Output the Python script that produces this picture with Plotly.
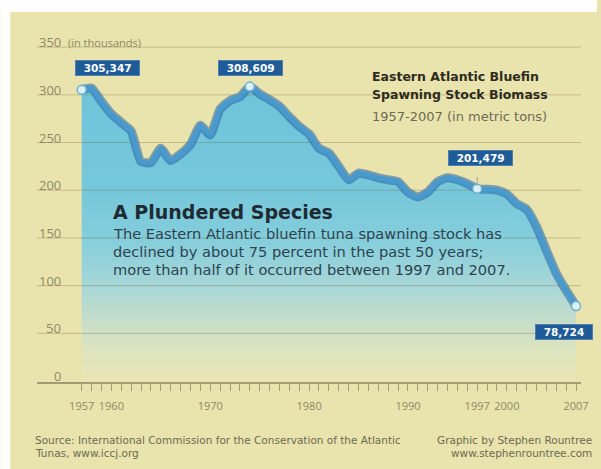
import plotly.graph_objects as go

# ---------------- data ----------------
years = list(range(1957, 2008))
biomass = [305.347, 307, 293, 280, 271, 262, 230, 229, 244, 231, 238, 248, 268, 258,
           285, 294, 298, 308.609, 301, 295, 288, 277, 267, 259, 244, 239, 225, 211,
           218, 216, 213, 211, 209, 198, 193, 198, 209, 213, 211, 207, 201.479, 201,
           200, 196, 186, 180, 162, 137, 113, 95, 78.724]

highlight_years = [1957, 1974, 1997, 2007]
highlight_labels = ["305,347", "308,609", "201,479", "78,724"]

ytick_vals = [0, 50, 100, 150, 200, 250, 300, 350]
ytick_text = ["0", "50", "100", "150", "200", "250", "300", "350"]
xtick_vals = [1957, 1960, 1970, 1980, 1990, 1997, 2000, 2007]
xtick_text = ["1957", "1960", "1970", "1980", "1990", "1997", "2000", "2007"]

body_lines = ["The Eastern Atlantic bluefin tuna spawning stock has",
              "declined by about 75 percent in the past 50 years;",
              "more than half of it occurred between 1997 and 2007."]

# ---------------- layout geometry ----------------
W, H = 601, 469
ML, MR, MT, MB = 37, 16, 29, 87
PW = W - ML - MR
PH = H - MT - MB
x_range = [1952.48, 2007.5]
y_range = [-1, 369]


def xp(px):
    return (px - ML) / PW


def yp(py):
    return (H - MB - py) / PH


BG = "#E9E3AD"
FONT = "DejaVu Sans"
TICKFONT = "Open Sans"

fig = go.Figure()

# area fill with vertical gradient
fig.add_trace(go.Scatter(
    x=years, y=biomass, mode="lines", line=dict(width=0, shape="spline", smoothing=0.5),
    fill="tozeroy",
    fillgradient=dict(
        type="vertical", start=0, stop=310,
        colorscale=[[0.0, "rgba(234,230,182,0.95)"],
                    [0.10, "rgba(221,228,191,0.95)"],
                    [0.20, "rgba(198,222,203,0.95)"],
                    [0.33, "rgba(160,213,219,0.93)"],
                    [0.48, "rgba(124,204,224,0.92)"],
                    [0.65, "rgba(108,197,223,0.92)"],
                    [1.0, "rgba(100,194,222,0.92)"]]),
    hoverinfo="skip", showlegend=False))

# gridlines (drawn over the fill, under the line)
gx, gy = [], []
for v in ytick_vals[1:]:
    gx += [x_range[0], x_range[1], None]
    gy += [v, v, None]
fig.add_trace(go.Scatter(x=gx, y=gy, mode="lines",
                         line=dict(color="rgba(95,85,40,0.28)", width=1),
                         hoverinfo="skip", showlegend=False))

# line glow + line
fig.add_trace(go.Scatter(x=years, y=biomass, mode="lines",
                         line=dict(color="rgba(36,98,160,0.55)", width=9, shape="spline", smoothing=0.5),
                         hoverinfo="skip", showlegend=False))
fig.add_trace(go.Scatter(x=years, y=biomass, mode="lines",
                         line=dict(color="#4899CD", width=5, shape="spline", smoothing=0.5),
                         hoverinfo="skip", showlegend=False))

hv = [biomass[years.index(y)] for y in highlight_years]
fig.add_trace(go.Scatter(x=highlight_years, y=hv, mode="markers",
                         marker=dict(size=9, color="#DCF2F2", line=dict(color="#6AAFD6", width=1.5)),
                         hoverinfo="skip", showlegend=False))

annotations = []

# y tick labels (right aligned, sitting on the gridlines)
for v, t in zip(ytick_vals, ytick_text):
    annotations.append(dict(xref="paper", yref="y", x=xp(63), y=v, text=t, showarrow=False,
                            xanchor="right", yanchor="middle", yshift=5,
                            font=dict(family=TICKFONT, size=13, color="#8E8A66")))
annotations.append(dict(xref="paper", yref="y", x=xp(66), y=ytick_vals[-1], text="(in thousands)",
                        showarrow=False, xanchor="left", yanchor="middle", yshift=5,
                        font=dict(family=TICKFONT, size=11, color="#8E8A66")))

# value callouts
label_shift = [(26, 22), (1, 19), (3, 31), (-12, -26)]
conn_len = [-15, -12, -22, 0]
for yr, v, lab, (dx, dy), cl in zip(highlight_years, hv, highlight_labels, label_shift, conn_len):
    if cl:
        annotations.append(dict(x=yr, y=v, xref="x", yref="y", text=" ", showarrow=True,
                                ax=0, ay=cl, arrowhead=0, arrowwidth=1, arrowcolor="#9AA7A6",
                                standoff=3))
    annotations.append(dict(x=yr, y=v, xref="x", yref="y",
                            text="&nbsp;&nbsp;<b>" + lab + "</b>&nbsp;&nbsp;",
                            showarrow=False, xshift=dx, yshift=dy,
                            bgcolor="#1F5C97", bordercolor="#4E7FAE", borderwidth=1, borderpad=1,
                            font=dict(family=FONT, size=10.5, color="white")))


def txt(x, y, s, size, color, anchor="left", bold=False):
    return dict(xref="paper", yref="paper", x=xp(x), y=yp(y),
                text=("<b>" + s + "</b>") if bold else s,
                showarrow=False, xanchor=anchor, yanchor="middle",
                font=dict(family=FONT, size=size, color=color))


annotations += [
    txt(372, 76, "Eastern Atlantic Bluefin", 12.5, "#2E2B1E", bold=True),
    txt(372, 95, "Spawning Stock Biomass", 12.5, "#2E2B1E", bold=True),
    txt(372, 117, "1957-2007 (in metric tons)", 13, "#6E6B55"),
    txt(112, 212, "A Plundered Species", 19, "#1E2B33", bold=True),
]
for i, line in enumerate(body_lines):
    annotations.append(txt(112, 233 + 18 * i, line, 14.6, "#2C4350"))

annotations += [
    txt(33, 440, "Source: International Commission for the Conservation of the Atlantic", 10.5, "#6E6B52"),
    txt(33, 453, "Tunas, www.iccj.org", 10.5, "#6E6B52"),
    txt(598, 440, "Graphic by Stephen Rountree", 10.5, "#6E6B52", anchor="right"),
    txt(598, 453, "www.stephenrountree.com", 10.5, "#6E6B52", anchor="right"),
]

shapes = [
    dict(type="rect", xref="paper", yref="paper", x0=xp(0), x1=xp(10), y0=yp(H), y1=yp(0),
         fillcolor="white", line=dict(width=0), layer="above"),
    dict(type="rect", xref="paper", yref="paper", x0=xp(0), x1=xp(W), y0=yp(12), y1=yp(0),
         fillcolor="white", line=dict(width=0), layer="above"),
]

fig.update_layout(
    width=W, height=H,
    margin=dict(l=ML, r=MR, t=MT, b=MB),
    paper_bgcolor=BG, plot_bgcolor="rgba(0,0,0,0)",
    showlegend=False,
    xaxis=dict(range=x_range, showgrid=False, zeroline=False,
               showline=True, linecolor="#A19C76", linewidth=1.5,
               tickmode="array", tickvals=xtick_vals, ticktext=xtick_text,
               ticks="outside", ticklen=7, tickcolor="#A19C76", tickwidth=1,
               ticklabelstandoff=6,
               minor=dict(tickmode="array", tickvals=years, ticks="outside", ticklen=7,
                          tickcolor="#A19C76", tickwidth=1, showgrid=False),
               tickfont=dict(family=TICKFONT, size=11, color="#8E8A66")),
    yaxis=dict(range=y_range, showgrid=False, zeroline=False, showticklabels=False,
               showline=False, ticks=""),
    annotations=annotations,
    shapes=shapes,
)

fig.write_html("out.html")
